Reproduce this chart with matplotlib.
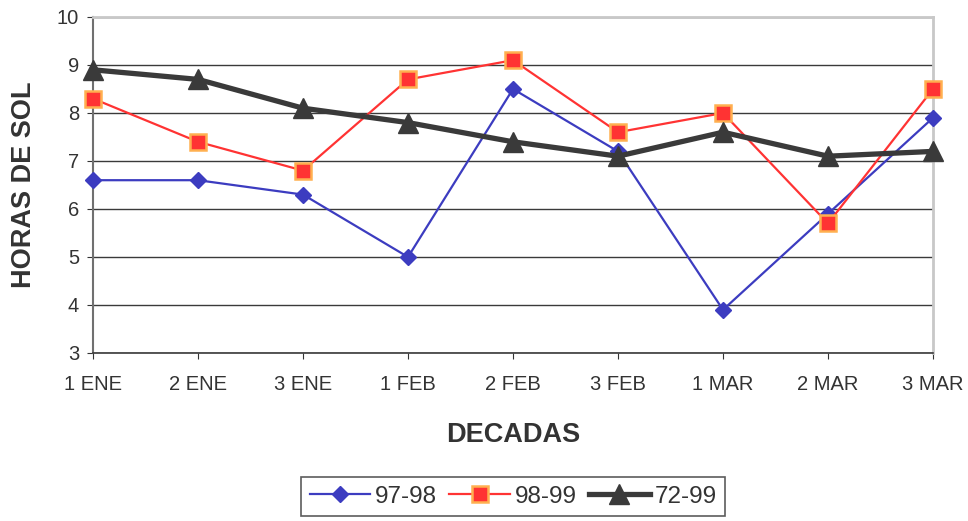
import matplotlib.pyplot as plt

# data
decadas = ["1 ENE", "2 ENE", "3 ENE", "1 FEB", "2 FEB", "3 FEB", "1 MAR", "2 MAR", "3 MAR"]
s_97_98 = [6.6, 6.6, 6.3, 5.0, 8.5, 7.2, 3.9, 5.9, 7.9]
s_98_99 = [8.3, 7.4, 6.8, 8.7, 9.1, 7.6, 8.0, 5.7, 8.5]
s_72_99 = [8.9, 8.7, 8.1, 7.8, 7.4, 7.1, 7.6, 7.1, 7.2]

plt.rcParams['font.family'] = ['Liberation Sans', 'DejaVu Sans']

fig = plt.figure(figsize=(9.68, 5.21), dpi=100)
ax = fig.add_axes([93 / 968, 1 - 353 / 521, (933 - 93) / 968, (353 - 17) / 521])

x = list(range(len(decadas)))
ax.plot(x, s_97_98, color="#3C3CC0", lw=1.6, marker="D", ms=8,
        mfc="#3C3CC0", mec="#3C3CC0", label="97-98", zorder=3, clip_on=False)
ax.plot(x, s_98_99, color="#FF3333", lw=1.6, marker="s", ms=11,
        mfc="#FF3333", mec="#FFB050", mew=1.8, label="98-99", zorder=4, clip_on=False)
ax.plot(x, s_72_99, color="#3A3A3A", lw=3.8, marker="^", ms=15,
        mfc="#3A3A3A", mec="#3A3A3A", label="72-99", zorder=5, clip_on=False)

ax.set_xlim(0, len(decadas) - 1)
ax.set_ylim(3, 10)
ax.set_yticks(range(3, 11))
ax.set_xticks(x)
ax.set_xticklabels(decadas)
ax.tick_params(axis="both", labelsize=14.5, colors="#333333", length=4)
ax.tick_params(axis="x", pad=12)
ax.tick_params(axis="y", pad=6)

ax.grid(axis="y", color="#3A3A3A", lw=1)
ax.set_axisbelow(True)
ax.spines["top"].set_color("#C8C8C8")
ax.spines["top"].set_linewidth(2)
ax.spines["left"].set_color("#707070")
ax.spines["left"].set_linewidth(1.5)
ax.spines["right"].set_color("#C8C8C8")
ax.spines["right"].set_linewidth(2)
ax.spines["bottom"].set_color("#3A3A3A")
ax.spines["bottom"].set_linewidth(1.2)

ax.set_xlabel("DECADAS", fontsize=19.5, fontweight="bold", color="#333333", labelpad=20)
ax.set_ylabel("HORAS DE SOL", fontsize=19.5, fontweight="bold", color="#333333", labelpad=14)

leg = fig.legend(loc="upper left", bbox_to_anchor=(301 / 968, 1 - 477 / 521),
                 ncol=3, fontsize=17.5, frameon=True, fancybox=False,
                 handlelength=2.5, handletextpad=0.2, columnspacing=0.5,
                 borderpad=0.35, borderaxespad=0)
leg.get_frame().set_edgecolor("#333333")
leg.get_frame().set_linewidth(1.2)
for t in leg.get_texts():
    t.set_color("#333333")

fig.savefig("out.png", dpi=100)
